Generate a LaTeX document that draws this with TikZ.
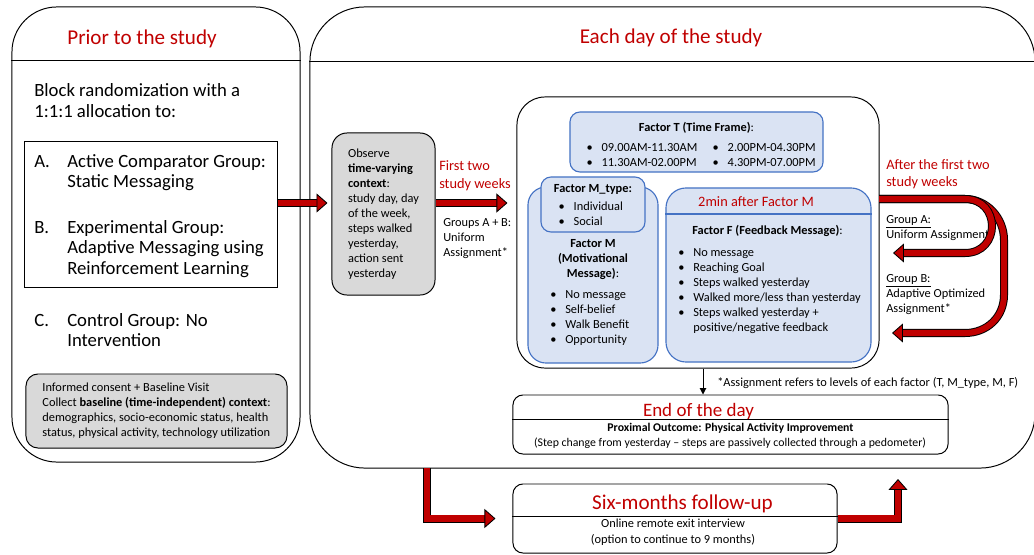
\documentclass[tikz,border=0pt]{standalone}
\usepackage{fontspec}
\setmainfont{Carlito}
\usetikzlibrary{arrows.meta,positioning}
\definecolor{darkred}{HTML}{C00000}
\definecolor{paleblue}{HTML}{DAE3F3}
\definecolor{edgeblue}{HTML}{4472C4}
\definecolor{panelgray}{HTML}{D9D9D9}
\newcommand{\bul}{\makebox[0.375cm][l]{\textbullet}}
\newcommand{\lbl}[1]{\makebox[0.825cm][l]{#1}}

\begin{document}
\begin{tikzpicture}[x=0.025cm, y=-0.025cm,
    panel/.style={draw, line width=0.7pt, inner sep=0pt},
    factor/.style={draw=edgeblue, fill=paleblue, line width=0.8pt, inner sep=0pt},
    heading/.style={text=darkred, font=\fontsize{15}{18}\selectfont, inner sep=0pt},
    bigtxt/.style={font=\fontsize{13.3}{14.6}\selectfont, align=left, inner sep=0pt},
    txt/.style={font=\fontsize{8.8}{10.7}\selectfont, align=left, inner sep=0pt},
    redlbl/.style={text=darkred, font=\fontsize{10.2}{12.4}\selectfont, align=left, inner sep=0pt},
    redarrow/.style={preaction={draw=black, -, line width=5.7pt, shorten >=6.5pt},
        draw=darkred, line width=4.3pt,
        -{Triangle[length=7.8pt, width=13.5pt, fill=darkred, color=black, line width=0.6pt]}}]
\useasboundingbox (0,0) rectangle (1034,554);

% prior to the study
\node[panel, minimum width=7.2cm, minimum height=11.375cm, rounded corners=1.125cm] (prior) at (156,234.5) {};
\coordinate (headline) at (0,60);
\draw[line width=0.7pt] (prior.west |- headline) -- (prior.east |- headline);
\node[heading, anchor=base] (priortitle) at (142,44) {Prior to the study};
\node[bigtxt, anchor=north west] (alloc) at (34,83.3) {Block randomization with a\\1:1:1 allocation to:};
\node[panel, minimum width=6.3cm, minimum height=3.625cm] (listbox) at (151,214.5) {};
\node[bigtxt, anchor=north west] (grpa) at (34,153.8) {\lbl{A.}Active Comparator Group:\\\hspace*{0.825cm}Static Messaging};
\node[bigtxt, anchor=north west] (grpb) at (34,219.8) {\lbl{B.}Experimental Group:\\\hspace*{0.825cm}Adaptive Messaging using\\\hspace*{0.825cm}Reinforcement Learning};
\node[bigtxt, anchor=north west] (grpc) at (34,312.8) {\lbl{C.}Control Group: No\\\hspace*{0.825cm}Intervention};
\node[panel, fill=panelgray, minimum width=6.525cm, minimum height=1.85cm, rounded corners=0.3cm, txt] (consent) at (156.5,411) {Informed consent + Baseline Visit\\Collect \textbf{baseline (time-independent) context}:\\demographics, socio-economic status, health\\status, physical activity, technology utilization};

% each day of the study
\node[panel, minimum width=18.125cm, minimum height=11.525cm, rounded corners=1.375cm] (day) at (672.5,237.5) {};
\coordinate (dayline) at (0,61);
\draw[line width=0.7pt] (day.west |- dayline) -- (day.east |- dayline);
\node[heading, anchor=base] (daytitle) at (671,43) {Each day of the study};

\node[panel, fill=panelgray, minimum width=2.575cm, minimum height=4.05cm, rounded corners=0.375cm, txt] (observe) at (383.5,214) {Observe\\\textbf{time-varying}\\\textbf{context}:\\study day, day\\of the week,\\steps walked\\yesterday,\\action sent\\yesterday};
\node[redlbl, anchor=north west] (firstlbl) at (439,160.7) {First two\\study weeks};
\node[txt, anchor=north west] (unilbl) at (443,218.3) {Groups A + B:\\Uniform\\Assignment*};

% factors
\node[panel, minimum width=9.05cm, minimum height=6.775cm, rounded corners=0.7cm] (msgbox) at (698,232.5) {};
\node[factor, minimum width=6.325cm, minimum height=1.5cm, rounded corners=0.25cm] (tbox) at (696.5,142) {};
\node[txt, anchor=base] (ttitle) at ([yshift=-0.5cm]tbox.north) {\textbf{Factor T (Time Frame)}:};
\node[txt, anchor=north west] (tleft) at ([xshift=0.425cm, yshift=-0.79cm]tbox.north west) {\bul 09.00AM-11.30AM\\\bul 11.30AM-02.00PM};
\node[txt, anchor=north west] (tright) at ([xshift=3.15cm]tleft.north west) {\bul 2.00PM-04.30PM\\\bul 4.30PM-07.00PM};

\node[factor, minimum width=3.25cm, minimum height=4.4cm, rounded corners=0.45cm] (mbox) at (593,275) {};
\node[factor, minimum width=2.6cm, minimum height=1.375cm, rounded corners=0.25cm] (mtypebox) at (593,204.5) {};
\node[txt, anchor=base] (mtypetitle) at ([yshift=-0.4cm]mtypebox.north) {\textbf{Factor M\_type:}};
\node[txt, anchor=north west] (mtypelist) at ([xshift=0.45cm, yshift=-0.625cm]mtypebox.north west) {\bul Individual\\\bul Social};
\node[txt, align=center, anchor=north] (mtitle) at (593,239.3) {\textbf{Factor M}\\\textbf{(Motivational}\\\textbf{Message)}:};
\node[txt, anchor=north west] (mlist) at (550,290.5) {\bul No message\\\bul Self-belief\\\bul Walk Benefit\\\bul Opportunity};

\node[factor, minimum width=5.125cm, minimum height=4.35cm, rounded corners=0.5cm] (fbox) at (768.5,275) {};
\coordinate (fline) at (0,214);
\draw[edgeblue, line width=0.8pt] (fbox.west |- fline) -- (fbox.east |- fline);
\node[redlbl, anchor=base] (fhead) at (756,206) {2min after Factor M};
\node[txt, anchor=base] (ftitle) at (767.5,234) {\textbf{Factor F (Feedback Message)}:};
\node[txt, anchor=north west] (flist) at (678,248.5) {\bul No message\\\bul Reaching Goal\\\bul Steps walked yesterday\\\bul Walked more/less than yesterday\\\bul Steps walked yesterday +\\\hspace*{0.375cm}positive/negative feedback};

\node[redlbl, anchor=north west] (afterlbl) at (886,159) {After the first two\\study weeks};
\node[txt, anchor=north west] (grpalbl) at (886,215.3) {\underline{Group A:}\\Uniform Assignment*};
\node[txt, anchor=north west] (grpblbl) at (886,274.3) {\underline{Group B:}\\Adaptive Optimized\\Assignment*};
\node[txt, anchor=north west] (note) at (717,377.3) {*Assignment refers to levels of each factor (T, M\_type, M, F)};

% end of the day
\node[panel, minimum width=10.875cm, minimum height=1.475cm, rounded corners=0.25cm] (endbox) at (730.5,424.5) {};
\coordinate (endline) at (0,419);
\draw[line width=0.7pt] (endbox.west |- endline) -- (endbox.east |- endline);
\node[heading, anchor=base, font=\fontsize{13.5}{16}\selectfont] (endtitle) at (698.5,416) {End of the day};
\node[txt, anchor=base, font=\fontsize{8.4}{10}\selectfont\bfseries] (outcome) at (730.5,431) {Proximal Outcome: Physical Activity Improvement};
\node[txt, anchor=base, font=\fontsize{8.4}{10}\selectfont] (stepnote) at (730,446) {(Step change from yesterday -- steps are passively collected through a pedometer)};

% six-months follow-up
\node[panel, minimum width=8.1cm, minimum height=1.725cm, rounded corners=0.25cm] (sixbox) at (675,518.5) {};
\coordinate (sixline) at (0,516);
\draw[line width=0.7pt] (sixbox.west |- sixline) -- (sixbox.east |- sixline);
\node[heading, anchor=base] (sixtitle) at (682.5,509) {Six-months follow-up};
\node[txt, align=center, anchor=north, font=\fontsize{8.8}{11.3}\selectfont] (exit) at (673,518.3) {Online remote exit interview\\(option to continue to 9 months)};

% arrows
\coordinate (lvl) at (0,203);
\draw[redarrow] (listbox.east |- lvl) -- ([xshift=-0.1cm]observe.west |- lvl);
\draw[redarrow] (observe.east |- lvl) -- ([xshift=-0.225cm]msgbox.west |- lvl);
\coordinate (drop) at ([xshift=0.125cm]msgbox.south);
\draw[line width=0.7pt, -{Triangle[length=4.5pt, width=4.5pt]}] (drop) -- (drop |- endbox.north);
\coordinate (split) at (879,199);
\coordinate (backa) at (893,253);
\coordinate (backb) at (892,333);
\draw[redarrow] (split) -- (965,199) .. controls (987,199) and (1004,218) .. (1004,240) -- (1004,295) .. controls (1004,317) and (987,333) .. (965,333) -- (backb);
\draw[redarrow] (split) -- (965,199) .. controls (1001,199) and (1001,253) .. (965,253) -- (backa);
\coordinate (leave) at (427,468);
\draw[redarrow] (leave) |- ([xshift=-0.425cm]sixbox.west);
\coordinate (back) at (898,479);
\draw[redarrow] (sixbox.east) -| (back);
\end{tikzpicture}
\end{document}
